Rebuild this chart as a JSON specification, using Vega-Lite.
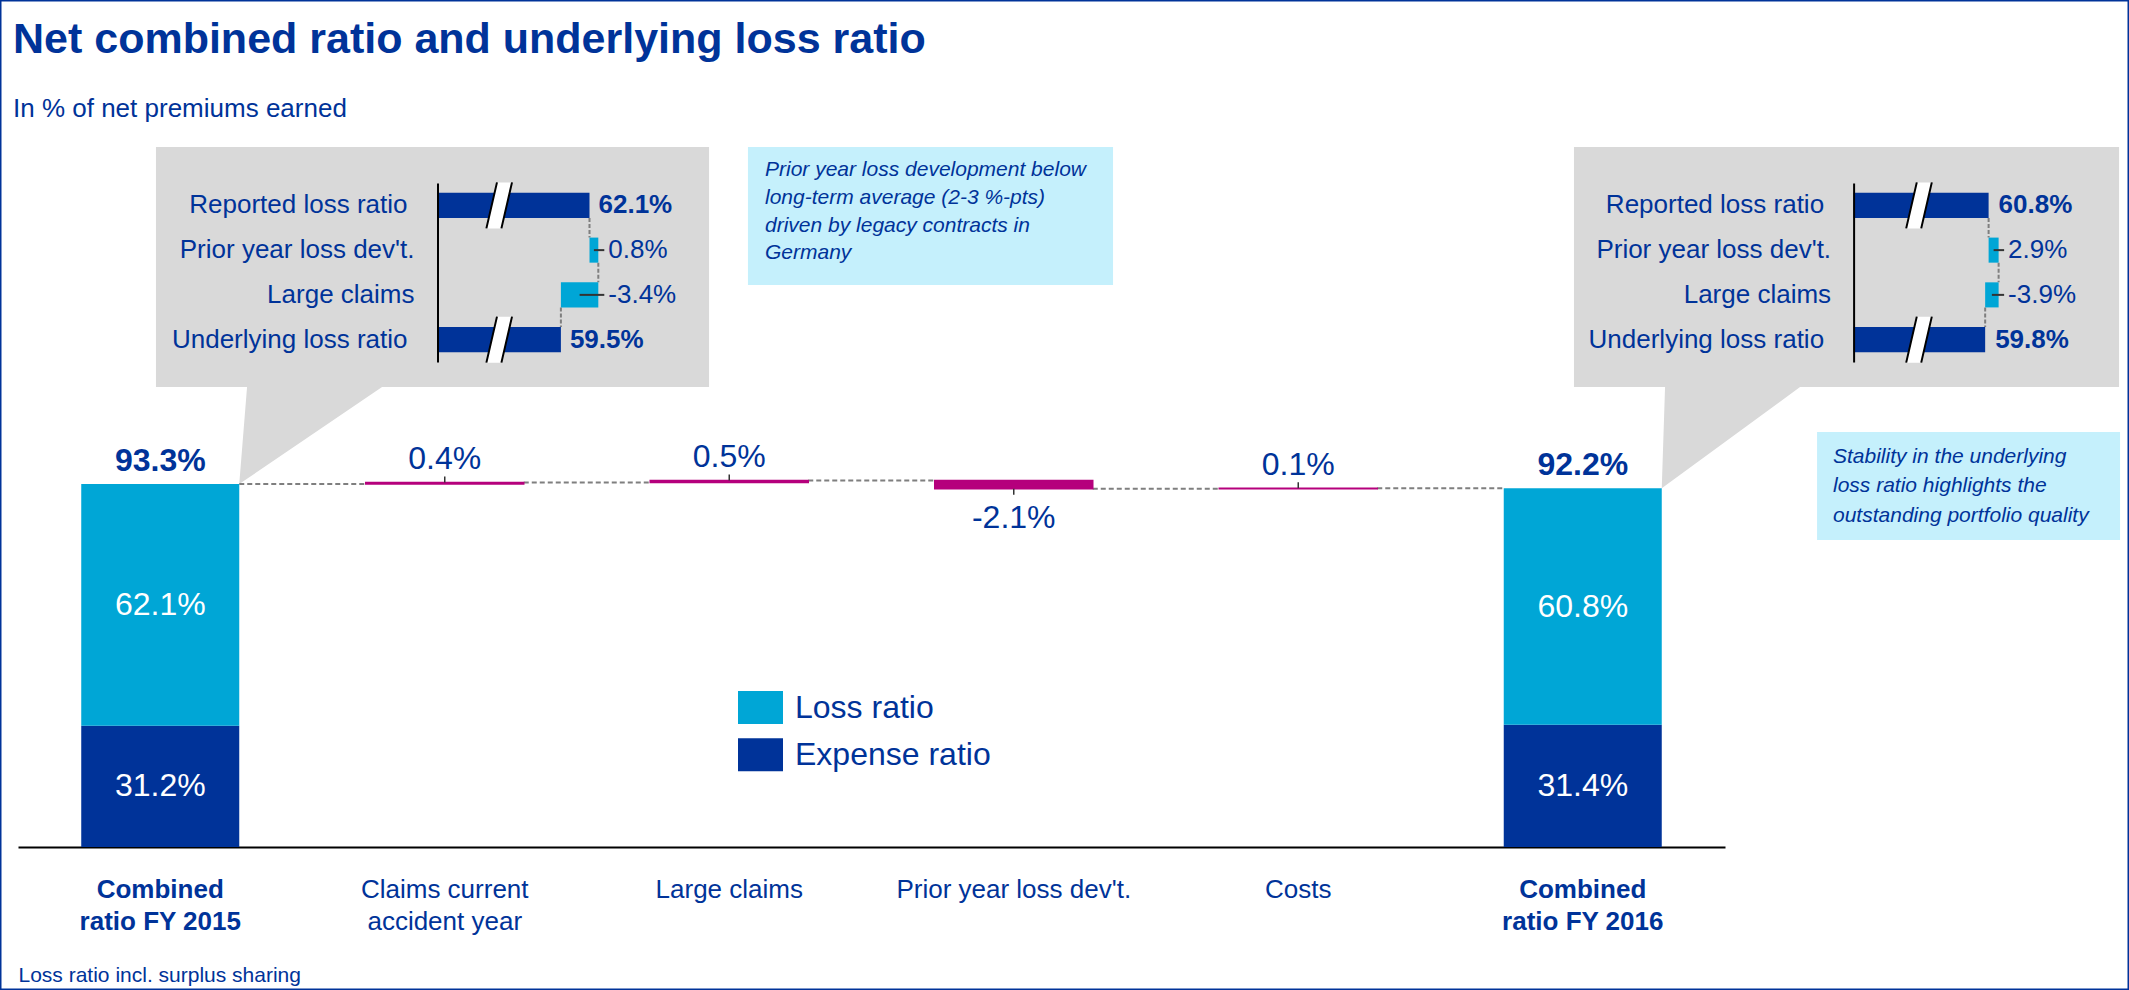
{
  "$schema": "https://vega.github.io/schema/vega-lite/v6.json",
  "width": 2129,
  "height": 990,
  "autosize": {"type": "none"},
  "padding": 0,
  "background": "#FFFFFF",
  "config": {
    "font": "Liberation Sans",
    "view": {"stroke": "#003399", "strokeWidth": 3}
  },
  "title": {
    "text": "Net combined ratio and underlying loss ratio",
    "subtitle": "In % of net premiums earned",
    "anchor": "start",
    "frame": "group",
    "orient": "top",
    "offset": -122,
    "dx": 13,
    "fontSize": 43,
    "fontWeight": "bold",
    "color": "#003399",
    "subtitleFontSize": 26,
    "subtitleColor": "#003399",
    "subtitlePadding": 34
  },
  "datasets": {
    "steps": [
      {"cat": "Combined ratio FY 2015", "series": "Expense ratio", "start": 0, "end": 31.2, "label": "31.2%"},
      {"cat": "Combined ratio FY 2015", "series": "Loss ratio", "start": 31.2, "end": 93.3, "label": "62.1%", "next": "Claims current accident year"},
      {"cat": "Claims current accident year", "series": "Change", "start": 93.3, "end": 93.7, "label": "0.4%", "next": "Large claims"},
      {"cat": "Large claims", "series": "Change", "start": 93.7, "end": 94.2, "label": "0.5%", "next": "Prior year loss dev't."},
      {"cat": "Prior year loss dev't.", "series": "Change", "start": 94.2, "end": 92.1, "label": "-2.1%", "next": "Costs"},
      {"cat": "Costs", "series": "Change", "start": 92.1, "end": 92.2, "label": "0.1%", "next": "Combined ratio FY 2016"},
      {"cat": "Combined ratio FY 2016", "series": "Expense ratio", "start": 0, "end": 31.4, "label": "31.4%"},
      {"cat": "Combined ratio FY 2016", "series": "Loss ratio", "start": 31.4, "end": 92.2, "label": "60.8%"}
    ],
    "totals": [
      {"cat": "Combined ratio FY 2015", "value": 93.3, "label": "93.3%"},
      {"cat": "Combined ratio FY 2016", "value": 92.2, "label": "92.2%"}
    ],
    "notes": [
      {"cat": "Prior year loss dev't.", "value": 94.2, "note": "Prior year loss development below\nlong-term average (2-3 %-pts)\ndriven by legacy contracts in\nGermany"},
      {"cat": "Combined ratio FY 2016", "value": 92.2, "note": "Stability in the underlying\nloss ratio highlights the\noutstanding portfolio quality"}
    ],
    "insetL": [
      {"row": "Reported loss ratio", "kind": "total", "start": 0, "end": 62.1, "label": "62.1%", "next": "Prior year loss dev't."},
      {"row": "Prior year loss dev't.", "kind": "delta", "start": 62.1, "end": 62.9, "label": "0.8%", "next": "Large claims"},
      {"row": "Large claims", "kind": "delta", "start": 62.9, "end": 59.5, "label": "-3.4%", "next": "Underlying loss ratio"},
      {"row": "Underlying loss ratio", "kind": "total", "start": 0, "end": 59.5, "label": "59.5%"}
    ],
    "insetR": [
      {"row": "Reported loss ratio", "kind": "total", "start": 0, "end": 60.8, "label": "60.8%", "next": "Prior year loss dev't."},
      {"row": "Prior year loss dev't.", "kind": "delta", "start": 60.8, "end": 63.7, "label": "2.9%", "next": "Large claims"},
      {"row": "Large claims", "kind": "delta", "start": 63.7, "end": 59.8, "label": "-3.9%", "next": "Underlying loss ratio"},
      {"row": "Underlying loss ratio", "kind": "total", "start": 0, "end": 59.8, "label": "59.8%"}
    ]
  },
  "layer": [
    {
      "data": {"name": "totals"},
      "transform": [{"filter": "datum.cat == 'Combined ratio FY 2015'"}],
      "mark": {"type": "point", "shape": "M-0.833,-3.371H4.698V-0.971H1.428L0,0L0.078,-0.971H-0.833Z", "size": 40000, "filled": true, "color": "#D9D9D9", "opacity": 1, "strokeWidth": 0},
      "encoding": {
        "x": {"field": "cat", "type": "nominal", "bandPosition": 1, "scale": {"type": "band", "domain": ["Combined ratio FY 2015", "Claims current accident year", "Large claims", "Prior year loss dev't.", "Costs", "Combined ratio FY 2016"], "range": [18, 1725], "paddingInner": 0.4446, "paddingOuter": 0.2223}, "axis": null},
        "y": {"field": "value", "type": "quantitative", "scale": {"type": "linear", "domain": [0, 100], "range": [847, 458], "nice": false, "zero": false}, "axis": null}
      }
    },
    {
      "data": {"name": "totals"},
      "transform": [{"filter": "datum.cat == 'Combined ratio FY 2016'"}],
      "mark": {"type": "point", "shape": "M-0.878,-3.413H4.573V-1.013H1.383L0,0L0.033,-1.013H-0.878Z", "size": 40000, "filled": true, "color": "#D9D9D9", "opacity": 1, "strokeWidth": 0},
      "encoding": {
        "x": {"field": "cat", "type": "nominal", "bandPosition": 1, "scale": {"type": "band", "domain": ["Combined ratio FY 2015", "Claims current accident year", "Large claims", "Prior year loss dev't.", "Costs", "Combined ratio FY 2016"], "range": [18, 1725], "paddingInner": 0.4446, "paddingOuter": 0.2223}, "axis": null},
        "y": {"field": "value", "type": "quantitative", "scale": {"type": "linear", "domain": [0, 100], "range": [847, 458], "nice": false, "zero": false}, "axis": null}
      }
    },
    {
      "data": {"name": "notes"},
      "transform": [{"filter": "datum.cat == \"Prior year loss dev't.\""}],
      "mark": {"type": "point", "shape": "M-2.658,-3.336H0.993V-1.956H-2.658Z", "size": 40000, "filled": true, "color": "#C5F0FC", "opacity": 1, "strokeWidth": 0},
      "encoding": {
        "x": {"field": "cat", "type": "nominal", "scale": {"type": "band", "domain": ["Combined ratio FY 2015", "Claims current accident year", "Large claims", "Prior year loss dev't.", "Costs", "Combined ratio FY 2016"], "range": [18, 1725], "paddingInner": 0.4446, "paddingOuter": 0.2223}, "axis": null},
        "y": {"field": "value", "type": "quantitative", "scale": {"type": "linear", "domain": [0, 100], "range": [847, 458], "nice": false, "zero": false}, "axis": null}
      }
    },
    {
      "data": {"name": "notes"},
      "transform": [{"filter": "datum.cat == 'Combined ratio FY 2016'"}],
      "mark": {"type": "point", "shape": "M1.553,-0.563H4.583V0.517H1.553Z", "size": 40000, "filled": true, "color": "#C5F0FC", "opacity": 1, "strokeWidth": 0},
      "encoding": {
        "x": {"field": "cat", "type": "nominal", "bandPosition": 1, "scale": {"type": "band", "domain": ["Combined ratio FY 2015", "Claims current accident year", "Large claims", "Prior year loss dev't.", "Costs", "Combined ratio FY 2016"], "range": [18, 1725], "paddingInner": 0.4446, "paddingOuter": 0.2223}, "axis": null},
        "y": {"field": "value", "type": "quantitative", "scale": {"type": "linear", "domain": [0, 100], "range": [847, 458], "nice": false, "zero": false}, "axis": null}
      }
    },
    {
      "data": {"name": "steps"},
      "transform": [{"filter": "isValid(datum.next)"}],
      "mark": {"type": "rule", "color": "#7F7F7F", "strokeWidth": 2, "strokeDash": [5, 3]},
      "encoding": {
        "x": {"field": "cat", "type": "nominal", "bandPosition": 1, "scale": {"type": "band", "domain": ["Combined ratio FY 2015", "Claims current accident year", "Large claims", "Prior year loss dev't.", "Costs", "Combined ratio FY 2016"], "range": [18, 1725], "paddingInner": 0.4446, "paddingOuter": 0.2223}, "axis": null},
        "x2": {"field": "next", "bandPosition": 0},
        "y": {"field": "end", "type": "quantitative", "scale": {"type": "linear", "domain": [0, 100], "range": [847, 458], "nice": false, "zero": false}, "axis": null}
      }
    },
    {
      "data": {"name": "steps"},
      "transform": [{"filter": "datum.series != 'Change'"}],
      "mark": {"type": "bar"},
      "encoding": {
        "x": {"field": "cat", "type": "nominal",
          "scale": {"type": "band", "domain": ["Combined ratio FY 2015", "Claims current accident year", "Large claims", "Prior year loss dev't.", "Costs", "Combined ratio FY 2016"], "range": [18, 1725], "paddingInner": 0.4446, "paddingOuter": 0.2223},
          "axis": {
            "orient": "bottom", "offset": -143, "domainColor": "#000000", "domainWidth": 2,
            "ticks": false, "grid": false, "labelAngle": 0, "labelOverlap": false, "labelLimit": 0,
            "labelFontSize": 26, "labelColor": "#003399", "labelPadding": 29, "labelLineHeight": 32,
            "labelExpr": "datum.value == 'Combined ratio FY 2015' ? ['Combined', 'ratio FY 2015'] : datum.value == 'Combined ratio FY 2016' ? ['Combined', 'ratio FY 2016'] : datum.value == 'Claims current accident year' ? ['Claims current', 'accident year'] : datum.label",
            "labelFontWeight": {"condition": {"test": "indexof(datum.value, 'Combined') == 0", "value": "bold"}, "value": "normal"},
            "title": "Loss ratio incl. surplus sharing", "titleFontSize": 21, "titleFontWeight": "normal", "titleColor": "#003399",
            "titleAnchor": "start", "titleAlign": "left", "titleX": 18, "titleY": 134, "titleBaseline": "alphabetic"
          }},
        "y": {"field": "start", "type": "quantitative", "scale": {"type": "linear", "domain": [0, 100], "range": [847, 458], "nice": false, "zero": false}, "axis": null},
        "y2": {"field": "end"},
        "color": {"field": "series", "type": "nominal",
          "scale": {"domain": ["Loss ratio", "Expense ratio"], "range": ["#00A6D6", "#003399"]},
          "legend": {"orient": "none", "legendX": 738, "legendY": 685, "title": null, "padding": 0,
            "symbolType": "M-1,-0.733H1V0.733H-1Z", "symbolSize": 2025, "symbolStrokeWidth": 0,
            "labelFontSize": 32, "labelColor": "#003399", "labelOffset": 12, "rowPadding": 8.3, "labelLimit": 0}}
      }
    },
    {
      "data": {"name": "steps"},
      "transform": [{"filter": "datum.series == 'Change'"}],
      "mark": {"type": "bar", "color": "#B5007C", "stroke": "#B5007C", "strokeWidth": 1.5},
      "encoding": {
        "x": {"field": "cat", "type": "nominal", "scale": {"type": "band", "domain": ["Combined ratio FY 2015", "Claims current accident year", "Large claims", "Prior year loss dev't.", "Costs", "Combined ratio FY 2016"], "range": [18, 1725], "paddingInner": 0.4446, "paddingOuter": 0.2223}, "axis": null},
        "y": {"field": "start", "type": "quantitative", "scale": {"type": "linear", "domain": [0, 100], "range": [847, 458], "nice": false, "zero": false}, "axis": null},
        "y2": {"field": "end"}
      }
    },
    {
      "data": {"name": "steps"},
      "transform": [{"filter": "datum.series == 'Change' && datum.end > datum.start"}],
      "mark": {"type": "rule", "color": "#333333", "strokeWidth": 1.5, "y2Offset": -6},
      "encoding": {
        "x": {"field": "cat", "type": "nominal", "scale": {"type": "band", "domain": ["Combined ratio FY 2015", "Claims current accident year", "Large claims", "Prior year loss dev't.", "Costs", "Combined ratio FY 2016"], "range": [18, 1725], "paddingInner": 0.4446, "paddingOuter": 0.2223}, "axis": null},
        "y": {"field": "end", "type": "quantitative", "scale": {"type": "linear", "domain": [0, 100], "range": [847, 458], "nice": false, "zero": false}, "axis": null},
        "y2": {"field": "end"}
      }
    },
    {
      "data": {"name": "steps"},
      "transform": [{"filter": "datum.series == 'Change' && datum.end < datum.start"}],
      "mark": {"type": "rule", "color": "#333333", "strokeWidth": 1.5, "y2Offset": 6},
      "encoding": {
        "x": {"field": "cat", "type": "nominal", "scale": {"type": "band", "domain": ["Combined ratio FY 2015", "Claims current accident year", "Large claims", "Prior year loss dev't.", "Costs", "Combined ratio FY 2016"], "range": [18, 1725], "paddingInner": 0.4446, "paddingOuter": 0.2223}, "axis": null},
        "y": {"field": "end", "type": "quantitative", "scale": {"type": "linear", "domain": [0, 100], "range": [847, 458], "nice": false, "zero": false}, "axis": null},
        "y2": {"field": "end"}
      }
    },
    {
      "data": {"name": "steps"},
      "transform": [{"filter": "datum.series == 'Change' && datum.end > datum.start"}],
      "mark": {"type": "text", "baseline": "alphabetic", "dy": -13.5, "fontSize": 32, "color": "#003399"},
      "encoding": {
        "x": {"field": "cat", "type": "nominal", "scale": {"type": "band", "domain": ["Combined ratio FY 2015", "Claims current accident year", "Large claims", "Prior year loss dev't.", "Costs", "Combined ratio FY 2016"], "range": [18, 1725], "paddingInner": 0.4446, "paddingOuter": 0.2223}, "axis": null},
        "y": {"field": "end", "type": "quantitative", "scale": {"type": "linear", "domain": [0, 100], "range": [847, 458], "nice": false, "zero": false}, "axis": null},
        "text": {"field": "label"}
      }
    },
    {
      "data": {"name": "steps"},
      "transform": [{"filter": "datum.series == 'Change' && datum.end < datum.start"}],
      "mark": {"type": "text", "baseline": "alphabetic", "dy": 39, "fontSize": 32, "color": "#003399"},
      "encoding": {
        "x": {"field": "cat", "type": "nominal", "scale": {"type": "band", "domain": ["Combined ratio FY 2015", "Claims current accident year", "Large claims", "Prior year loss dev't.", "Costs", "Combined ratio FY 2016"], "range": [18, 1725], "paddingInner": 0.4446, "paddingOuter": 0.2223}, "axis": null},
        "y": {"field": "end", "type": "quantitative", "scale": {"type": "linear", "domain": [0, 100], "range": [847, 458], "nice": false, "zero": false}, "axis": null},
        "text": {"field": "label"}
      }
    },
    {
      "data": {"name": "steps"},
      "transform": [
        {"filter": "datum.series != 'Change'"},
        {"fold": ["start", "end"], "as": ["k", "v"]},
        {"aggregate": [{"op": "mean", "field": "v", "as": "mid"}], "groupby": ["cat", "series", "label"]}
      ],
      "mark": {"type": "text", "baseline": "middle", "fontSize": 32, "color": "#FFFFFF"},
      "encoding": {
        "x": {"field": "cat", "type": "nominal", "scale": {"type": "band", "domain": ["Combined ratio FY 2015", "Claims current accident year", "Large claims", "Prior year loss dev't.", "Costs", "Combined ratio FY 2016"], "range": [18, 1725], "paddingInner": 0.4446, "paddingOuter": 0.2223}, "axis": null},
        "y": {"field": "mid", "type": "quantitative", "scale": {"type": "linear", "domain": [0, 100], "range": [847, 458], "nice": false, "zero": false}, "axis": null},
        "text": {"field": "label"}
      }
    },
    {
      "data": {"name": "totals"},
      "mark": {"type": "text", "baseline": "alphabetic", "dy": -13, "fontSize": 32, "fontWeight": "bold", "color": "#003399"},
      "encoding": {
        "x": {"field": "cat", "type": "nominal", "scale": {"type": "band", "domain": ["Combined ratio FY 2015", "Claims current accident year", "Large claims", "Prior year loss dev't.", "Costs", "Combined ratio FY 2016"], "range": [18, 1725], "paddingInner": 0.4446, "paddingOuter": 0.2223}, "axis": null},
        "y": {"field": "value", "type": "quantitative", "scale": {"type": "linear", "domain": [0, 100], "range": [847, 458], "nice": false, "zero": false}, "axis": null},
        "text": {"field": "label"}
      }
    },
    {
      "data": {"name": "notes"},
      "transform": [{"filter": "datum.cat == \"Prior year loss dev't.\""}],
      "mark": {"type": "text", "align": "left", "baseline": "alphabetic", "dx": -248.75, "dy": -304.5, "fontSize": 21, "fontStyle": "italic", "color": "#003399", "lineBreak": "\n", "lineHeight": 27.8},
      "encoding": {
        "x": {"field": "cat", "type": "nominal", "scale": {"type": "band", "domain": ["Combined ratio FY 2015", "Claims current accident year", "Large claims", "Prior year loss dev't.", "Costs", "Combined ratio FY 2016"], "range": [18, 1725], "paddingInner": 0.4446, "paddingOuter": 0.2223}, "axis": null},
        "y": {"field": "value", "type": "quantitative", "scale": {"type": "linear", "domain": [0, 100], "range": [847, 458], "nice": false, "zero": false}, "axis": null},
        "text": {"field": "note"}
      }
    },
    {
      "data": {"name": "notes"},
      "transform": [{"filter": "datum.cat == 'Combined ratio FY 2016'"}],
      "mark": {"type": "text", "align": "left", "baseline": "alphabetic", "dx": 171.25, "dy": -25.6, "fontSize": 21, "fontStyle": "italic", "color": "#003399", "lineBreak": "\n", "lineHeight": 29.7},
      "encoding": {
        "x": {"field": "cat", "type": "nominal", "bandPosition": 1, "scale": {"type": "band", "domain": ["Combined ratio FY 2015", "Claims current accident year", "Large claims", "Prior year loss dev't.", "Costs", "Combined ratio FY 2016"], "range": [18, 1725], "paddingInner": 0.4446, "paddingOuter": 0.2223}, "axis": null},
        "y": {"field": "value", "type": "quantitative", "scale": {"type": "linear", "domain": [0, 100], "range": [847, 458], "nice": false, "zero": false}, "axis": null},
        "text": {"field": "note"}
      }
    },
    {
      "data": {"name": "insetL"},
      "transform": [{"filter": "isValid(datum.next)"}],
      "mark": {"type": "rule", "color": "#7F7F7F", "strokeWidth": 2, "strokeDash": [4, 2]},
      "encoding": {
        "x": {"field": "end", "type": "quantitative", "scale": {"type": "linear", "domain": [0, 53.89, 65], "range": [437.5, 499.2, 621.4], "nice": false, "zero": false}, "axis": null},
        "y": {"field": "row", "type": "nominal", "bandPosition": 1, "scale": {"type": "band", "domain": ["Reported loss ratio", "Prior year loss dev't.", "Large claims", "Underlying loss ratio"], "range": [183, 362], "paddingInner": 0.44, "paddingOuter": 0.22}, "axis": null},
        "y2": {"field": "next", "bandPosition": 0}
      }
    },
    {
      "data": {"name": "insetL"},
      "mark": {"type": "bar"},
      "encoding": {
        "x": {"field": "start", "type": "quantitative", "scale": {"type": "linear", "domain": [0, 53.89, 65], "range": [437.5, 499.2, 621.4], "nice": false, "zero": false}, "axis": null},
        "x2": {"field": "end"},
        "y": {"field": "row", "type": "nominal", "scale": {"type": "band", "domain": ["Reported loss ratio", "Prior year loss dev't.", "Large claims", "Underlying loss ratio"], "range": [183, 362], "paddingInner": 0.44, "paddingOuter": 0.22},
          "axis": {"orient": "left", "offset": -437.5, "zindex": 1, "domainColor": "#000000", "domainWidth": 2, "ticks": false, "grid": false, "labelFontSize": 26, "labelColor": "#003399", "labelLimit": 0, "title": null,
            "labelPadding": {"condition": {"test": "indexof(datum.value, 'loss ratio') > 0", "value": 30.5}, "value": 23.5}}},
        "color": {"condition": {"test": "datum.kind == 'total'", "value": "#003399"}, "value": "#00A6D6"}
      }
    },
    {
      "data": {"name": "insetL"},
      "transform": [{"filter": "datum.kind == 'total'"}],
      "mark": {"type": "point", "shape": "M-0.096,-1L0.557,-1L0.096,1L-0.557,1Z", "size": 2116, "filled": true, "color": "#FFFFFF", "opacity": 1, "strokeWidth": 0},
      "encoding": {
        "x": {"datum": 53.89, "type": "quantitative", "scale": {"type": "linear", "domain": [0, 53.89, 65], "range": [437.5, 499.2, 621.4], "nice": false, "zero": false}, "axis": null},
        "y": {"field": "row", "type": "nominal", "scale": {"type": "band", "domain": ["Reported loss ratio", "Prior year loss dev't.", "Large claims", "Underlying loss ratio"], "range": [183, 362], "paddingInner": 0.44, "paddingOuter": 0.22}, "axis": null}
      }
    },
    {
      "data": {"name": "insetL"},
      "transform": [{"filter": "datum.kind == 'total'"}],
      "mark": {"type": "point", "shape": "M-0.096,-1L-0.557,1M0.557,-1L0.096,1", "size": 2116, "filled": false, "color": "#000000", "opacity": 1, "strokeWidth": 2},
      "encoding": {
        "x": {"datum": 53.89, "type": "quantitative", "scale": {"type": "linear", "domain": [0, 53.89, 65], "range": [437.5, 499.2, 621.4], "nice": false, "zero": false}, "axis": null},
        "y": {"field": "row", "type": "nominal", "scale": {"type": "band", "domain": ["Reported loss ratio", "Prior year loss dev't.", "Large claims", "Underlying loss ratio"], "range": [183, 362], "paddingInner": 0.44, "paddingOuter": 0.22}, "axis": null}
      }
    },
    {
      "data": {"name": "insetL"},
      "transform": [
        {"filter": "datum.kind == 'delta'"},
        {"fold": ["start", "end"], "as": ["k", "v"]},
        {"aggregate": [{"op": "max", "field": "v", "as": "hi"}, {"op": "mean", "field": "v", "as": "mid"}], "groupby": ["row", "label"]}
      ],
      "mark": {"type": "rule", "color": "#333333", "strokeWidth": 2, "x2Offset": 6},
      "encoding": {
        "x": {"field": "mid", "type": "quantitative", "scale": {"type": "linear", "domain": [0, 53.89, 65], "range": [437.5, 499.2, 621.4], "nice": false, "zero": false}, "axis": null},
        "x2": {"field": "hi"},
        "y": {"field": "row", "type": "nominal", "scale": {"type": "band", "domain": ["Reported loss ratio", "Prior year loss dev't.", "Large claims", "Underlying loss ratio"], "range": [183, 362], "paddingInner": 0.44, "paddingOuter": 0.22}, "axis": null}
      }
    },
    {
      "data": {"name": "insetL"},
      "transform": [
        {"filter": "datum.kind == 'delta'"},
        {"fold": ["start", "end"], "as": ["k", "v"]},
        {"aggregate": [{"op": "max", "field": "v", "as": "hi"}], "groupby": ["row", "label"]}
      ],
      "mark": {"type": "text", "align": "left", "baseline": "middle", "dx": 10, "fontSize": 26, "color": "#003399"},
      "encoding": {
        "x": {"field": "hi", "type": "quantitative", "scale": {"type": "linear", "domain": [0, 53.89, 65], "range": [437.5, 499.2, 621.4], "nice": false, "zero": false}, "axis": null},
        "y": {"field": "row", "type": "nominal", "scale": {"type": "band", "domain": ["Reported loss ratio", "Prior year loss dev't.", "Large claims", "Underlying loss ratio"], "range": [183, 362], "paddingInner": 0.44, "paddingOuter": 0.22}, "axis": null},
        "text": {"field": "label"}
      }
    },
    {
      "data": {"name": "insetL"},
      "transform": [{"filter": "datum.kind == 'total'"}],
      "mark": {"type": "text", "align": "left", "baseline": "middle", "dx": 9, "fontSize": 26, "fontWeight": "bold", "color": "#003399"},
      "encoding": {
        "x": {"field": "end", "type": "quantitative", "scale": {"type": "linear", "domain": [0, 53.89, 65], "range": [437.5, 499.2, 621.4], "nice": false, "zero": false}, "axis": null},
        "y": {"field": "row", "type": "nominal", "scale": {"type": "band", "domain": ["Reported loss ratio", "Prior year loss dev't.", "Large claims", "Underlying loss ratio"], "range": [183, 362], "paddingInner": 0.44, "paddingOuter": 0.22}, "axis": null},
        "text": {"field": "label"}
      }
    },
    {
      "data": {"name": "insetR"},
      "transform": [{"filter": "isValid(datum.next)"}],
      "mark": {"type": "rule", "color": "#7F7F7F", "strokeWidth": 2, "strokeDash": [4, 2]},
      "encoding": {
        "x": {"field": "end", "type": "quantitative", "scale": {"type": "linear", "domain": [0, 40.63, 65], "range": [1853.6, 1919, 2003.1], "nice": false, "zero": false}, "axis": null},
        "y": {"field": "row", "type": "nominal", "bandPosition": 1, "scale": {"type": "band", "domain": ["Reported loss ratio", "Prior year loss dev't.", "Large claims", "Underlying loss ratio"], "range": [183, 362], "paddingInner": 0.44, "paddingOuter": 0.22}, "axis": null},
        "y2": {"field": "next", "bandPosition": 0}
      }
    },
    {
      "data": {"name": "insetR"},
      "mark": {"type": "bar"},
      "encoding": {
        "x": {"field": "start", "type": "quantitative", "scale": {"type": "linear", "domain": [0, 40.63, 65], "range": [1853.6, 1919, 2003.1], "nice": false, "zero": false}, "axis": null},
        "x2": {"field": "end"},
        "y": {"field": "row", "type": "nominal", "scale": {"type": "band", "domain": ["Reported loss ratio", "Prior year loss dev't.", "Large claims", "Underlying loss ratio"], "range": [183, 362], "paddingInner": 0.44, "paddingOuter": 0.22},
          "axis": {"orient": "left", "offset": -1853.6, "zindex": 1, "domainColor": "#000000", "domainWidth": 2, "ticks": false, "grid": false, "labelFontSize": 26, "labelColor": "#003399", "labelLimit": 0, "title": null,
            "labelPadding": {"condition": {"test": "indexof(datum.value, 'loss ratio') > 0", "value": 30}, "value": 23}}},
        "color": {"condition": {"test": "datum.kind == 'total'", "value": "#003399"}, "value": "#00A6D6"}
      }
    },
    {
      "data": {"name": "insetR"},
      "transform": [{"filter": "datum.kind == 'total'"}],
      "mark": {"type": "point", "shape": "M-0.096,-1L0.557,-1L0.096,1L-0.557,1Z", "size": 2116, "filled": true, "color": "#FFFFFF", "opacity": 1, "strokeWidth": 0},
      "encoding": {
        "x": {"datum": 40.63, "type": "quantitative", "scale": {"type": "linear", "domain": [0, 40.63, 65], "range": [1853.6, 1919, 2003.1], "nice": false, "zero": false}, "axis": null},
        "y": {"field": "row", "type": "nominal", "scale": {"type": "band", "domain": ["Reported loss ratio", "Prior year loss dev't.", "Large claims", "Underlying loss ratio"], "range": [183, 362], "paddingInner": 0.44, "paddingOuter": 0.22}, "axis": null}
      }
    },
    {
      "data": {"name": "insetR"},
      "transform": [{"filter": "datum.kind == 'total'"}],
      "mark": {"type": "point", "shape": "M-0.096,-1L-0.557,1M0.557,-1L0.096,1", "size": 2116, "filled": false, "color": "#000000", "opacity": 1, "strokeWidth": 2},
      "encoding": {
        "x": {"datum": 40.63, "type": "quantitative", "scale": {"type": "linear", "domain": [0, 40.63, 65], "range": [1853.6, 1919, 2003.1], "nice": false, "zero": false}, "axis": null},
        "y": {"field": "row", "type": "nominal", "scale": {"type": "band", "domain": ["Reported loss ratio", "Prior year loss dev't.", "Large claims", "Underlying loss ratio"], "range": [183, 362], "paddingInner": 0.44, "paddingOuter": 0.22}, "axis": null}
      }
    },
    {
      "data": {"name": "insetR"},
      "transform": [
        {"filter": "datum.kind == 'delta'"},
        {"fold": ["start", "end"], "as": ["k", "v"]},
        {"aggregate": [{"op": "max", "field": "v", "as": "hi"}, {"op": "mean", "field": "v", "as": "mid"}], "groupby": ["row", "label"]}
      ],
      "mark": {"type": "rule", "color": "#333333", "strokeWidth": 2, "x2Offset": 5.5},
      "encoding": {
        "x": {"field": "mid", "type": "quantitative", "scale": {"type": "linear", "domain": [0, 40.63, 65], "range": [1853.6, 1919, 2003.1], "nice": false, "zero": false}, "axis": null},
        "x2": {"field": "hi"},
        "y": {"field": "row", "type": "nominal", "scale": {"type": "band", "domain": ["Reported loss ratio", "Prior year loss dev't.", "Large claims", "Underlying loss ratio"], "range": [183, 362], "paddingInner": 0.44, "paddingOuter": 0.22}, "axis": null}
      }
    },
    {
      "data": {"name": "insetR"},
      "transform": [
        {"filter": "datum.kind == 'delta'"},
        {"fold": ["start", "end"], "as": ["k", "v"]},
        {"aggregate": [{"op": "max", "field": "v", "as": "hi"}], "groupby": ["row", "label"]}
      ],
      "mark": {"type": "text", "align": "left", "baseline": "middle", "dx": 9.5, "fontSize": 26, "color": "#003399"},
      "encoding": {
        "x": {"field": "hi", "type": "quantitative", "scale": {"type": "linear", "domain": [0, 40.63, 65], "range": [1853.6, 1919, 2003.1], "nice": false, "zero": false}, "axis": null},
        "y": {"field": "row", "type": "nominal", "scale": {"type": "band", "domain": ["Reported loss ratio", "Prior year loss dev't.", "Large claims", "Underlying loss ratio"], "range": [183, 362], "paddingInner": 0.44, "paddingOuter": 0.22}, "axis": null},
        "text": {"field": "label"}
      }
    },
    {
      "data": {"name": "insetR"},
      "transform": [{"filter": "datum.kind == 'total'"}],
      "mark": {"type": "text", "align": "left", "baseline": "middle", "dx": 10, "fontSize": 26, "fontWeight": "bold", "color": "#003399"},
      "encoding": {
        "x": {"field": "end", "type": "quantitative", "scale": {"type": "linear", "domain": [0, 40.63, 65], "range": [1853.6, 1919, 2003.1], "nice": false, "zero": false}, "axis": null},
        "y": {"field": "row", "type": "nominal", "scale": {"type": "band", "domain": ["Reported loss ratio", "Prior year loss dev't.", "Large claims", "Underlying loss ratio"], "range": [183, 362], "paddingInner": 0.44, "paddingOuter": 0.22}, "axis": null},
        "text": {"field": "label"}
      }
    }
  ],
  "resolve": {"scale": {"x": "independent", "y": "independent"}}
}
